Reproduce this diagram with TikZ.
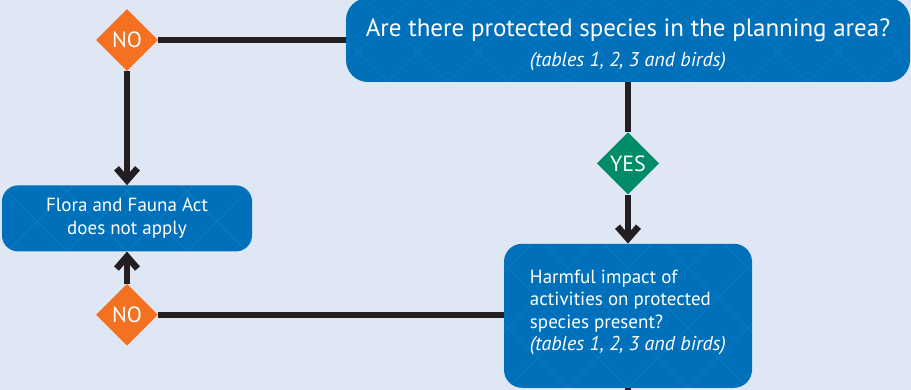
\documentclass[tikz,border=0pt]{standalone}
\usepackage{fontspec}
\setmainfont{PT Sans}
\usetikzlibrary{positioning}
\usetikzlibrary{shapes.geometric}
\usetikzlibrary{arrows.meta}

\definecolor{paneblue}{RGB}{224,231,244}
\definecolor{boxblue}{RGB}{0,112,186}
\definecolor{noorange}{RGB}{243,113,33}
\definecolor{yesgreen}{RGB}{0,140,104}
\definecolor{linedark}{RGB}{35,31,32}

\begin{document}
\begin{tikzpicture}[x=1pt, y=-1pt,
    lattice/.style={path picture={
        \foreach \k in {-600,-540,...,600} {
          \draw[white, opacity=0.08, line width=0.6pt]
            ([xshift=\k pt]path picture bounding box.south) -- ++(300,-300)
            ([xshift=\k pt]path picture bounding box.south) -- ++(-300,-300);
        }}},
    panel/.style={fill=boxblue, text=white, inner sep=0pt, lattice},
    decision/.style={shape=diamond, aspect=1, minimum width=62pt, minimum height=62pt,
        inner sep=0pt, text=white, font=\fontsize{22}{26}\selectfont},
    flow/.style={draw=linedark, line width=6.5pt},
    flowarrow/.style={flow, -{Straight Barb[length=12pt, width=21pt]}}
]
    \fill[paneblue] (0,0) rectangle (911,390);
    \useasboundingbox (0,0) rectangle (911,390);

    \node[panel, minimum width=564pt, minimum height=84pt, rounded corners=22pt, align=center,
        font=\fontsize{25}{30}\selectfont] (q1) at (628,40)
        {\rule{0pt}{28pt}Are there protected species in the planning area?\\[0pt]{\fontsize{20}{24}\selectfont\itshape (tables 1, 2, 3 and birds)}};

    \node[decision, fill=noorange] (noTop) at (127,40) {NO};
    \node[decision, fill=yesgreen, below=50pt of q1] (yes) {YES};

    \node[panel, minimum width=250pt, minimum height=66pt, rounded corners=16pt, align=center,
        font=\fontsize{19}{23}\selectfont, below=114pt of noTop] (flora)
        {Flora and Fauna Act\\does not apply};
    \node[decision, fill=noorange, below=32pt of flora] (noBot) {NO};

    \node[panel, minimum width=248pt, minimum height=144pt, rounded corners=18pt, align=left,
        font=\fontsize{19}{22.5}\selectfont, below=49pt of yes] (harm)
        {Harmful impact of\\activities on protected\\species present?\\{\fontsize{20}{22.5}\selectfont\itshape (tables 1, 2, 3 and birds)}\rule[-11pt]{0pt}{0pt}};
    \coordinate (exit) at (628,392);

    % connectors
    \draw[flow] (noTop.east) -- (noTop.east -| q1.west);
    \draw[flowarrow] (noTop.south) -- (flora.north);
    \draw[flow] (q1.south) -- (yes.north);
    \draw[flowarrow] (yes.south) -- (harm.north);
    \draw[flowarrow] (noBot.north) -- (flora.south);
    \draw[flow] (noBot.east) -- (noBot.east -| harm.west);
    \draw[flow] (harm.south) -- (exit);
\end{tikzpicture}
\end{document}
